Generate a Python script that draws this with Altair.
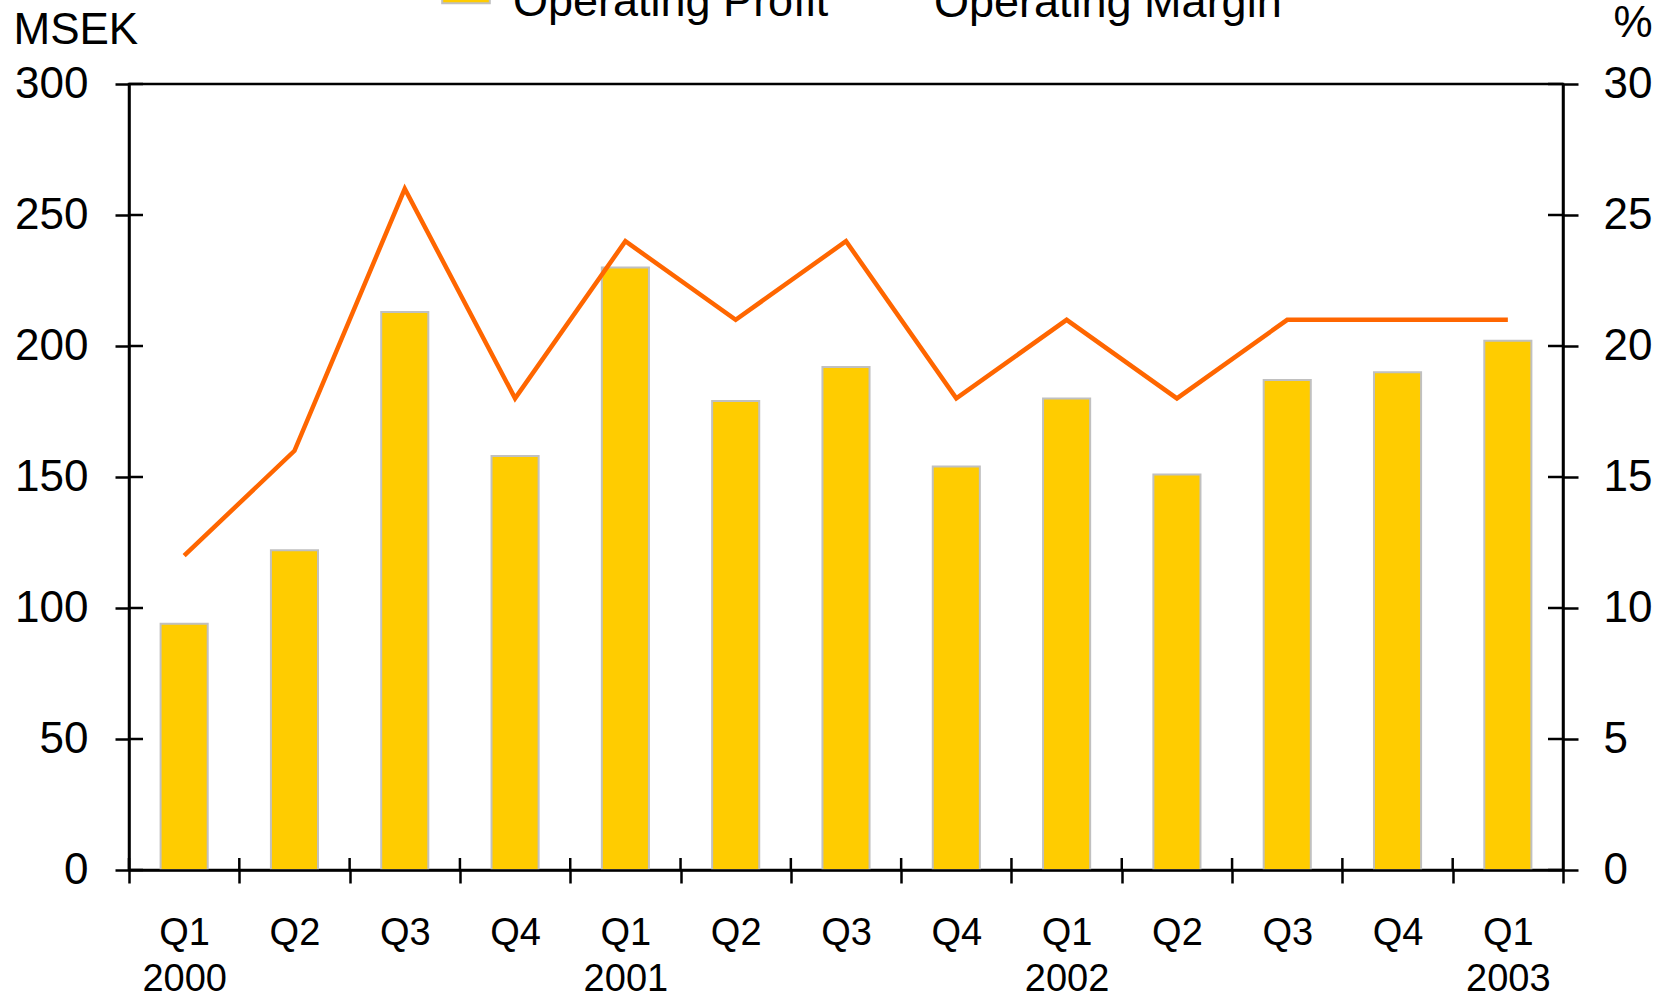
import altair as alt
import pandas as pd

quarters = ["Q1", "Q2", "Q3", "Q4", "Q1", "Q2", "Q3", "Q4", "Q1", "Q2", "Q3", "Q4", "Q1"]
years = ["2000"] * 4 + ["2001"] * 4 + ["2002"] * 4 + ["2003"]
operating_profit = [94, 122, 213, 158, 230, 179, 192, 154, 180, 151, 187, 190, 202]
operating_margin = [12, 16, 26, 18, 24, 21, 24, 18, 21, 18, 21, 21, 21]
left_ticks = [0, 50, 100, 150, 200, 250, 300]
right_ticks = [0, 5, 10, 15, 20, 25, 30]

keys = [f"{y}-{q}" for y, q in zip(years, quarters)]
df = pd.DataFrame({
    "period": keys,
    "profit": operating_profit,
    "margin": operating_margin,
    "s1": "Operating Profit",
    "s2": "Operating Margin",
})
left_df = pd.DataFrame({"v": left_ticks})
right_df = pd.DataFrame({"v": right_ticks})

FONT = "Liberation Sans"
W, H = 1434, 786
label_expr = ("isString(datum.value) ? "
              "(slice(datum.value,5) == 'Q1' ? "
              "[slice(datum.value,5), slice(datum.value,0,4)] : slice(datum.value,5)) : ''")

x_scale = alt.Scale(paddingInner=0, paddingOuter=0)

x_enc = alt.X(
    "period:N", sort=keys, title=None, scale=x_scale,
    axis=alt.Axis(
        labelExpr=label_expr, labelAngle=0, tickBand="extent",
        domain=True, domainColor="black", domainWidth=2.5, zindex=1,
        tickSize=13, tickWidth=2.5, tickColor="black",
        labelFont=FONT, labelFontSize=38, labelLineHeight=46, labelPadding=31,
        labelColor="black", labelBaseline="top", grid=False,
    ),
)

bars = alt.Chart(df).mark_bar(
    stroke="#C0C0C0", strokeWidth=2, width=alt.RelativeBandSize(0.427)
).encode(
    x=x_enc,
    y=alt.Y(
        "profit:Q", scale=alt.Scale(domain=[0, 300], nice=False),
        axis=alt.Axis(
            orient="left", values=left_ticks, grid=False,
            domain=True, domainColor="black", domainWidth=2.5, zindex=1,
            tickSize=14, tickWidth=2.5, tickColor="black",
            labelFont=FONT, labelFontSize=44, labelPadding=27, labelColor="black",
            title="MSEK", titleAngle=0, titleAlign="left", titleBaseline="alphabetic",
            titleX=-116, titleY=-41, titleFont=FONT, titleFontSize=44,
            titleFontWeight="normal", titleColor="black",
        ),
    ),
    fill=alt.Fill(
        "s1:N", scale=alt.Scale(range=["#FFCC00"]),
        legend=alt.Legend(
            title=None, orient="none", legendX=312, legendY=-129.5, padding=0,
            symbolType="square", symbolSize=2266,
            symbolStrokeColor="#C0C0C0", symbolStrokeWidth=2,
            labelFont=FONT, labelFontSize=45, labelColor="black",
            labelBaseline="top", labelOffset=22, labelLimit=1000,
        ),
    ),
)

line = alt.Chart(df).mark_line(strokeWidth=4.5).encode(
    x=alt.X("period:N", sort=keys),
    y=alt.Y(
        "margin:Q", scale=alt.Scale(domain=[0, 30], nice=False),
        axis=alt.Axis(
            orient="right", values=right_ticks, grid=False,
            domain=True, domainColor="black", domainWidth=2.5, zindex=1,
            tickSize=15, tickWidth=2.5, tickColor="black",
            labelFont=FONT, labelFontSize=44, labelPadding=25, labelColor="black",
            title="%", titleAngle=0, titleAlign="right", titleBaseline="alphabetic",
            titleX=89, titleY=-48, titleFont=FONT, titleFontSize=44,
            titleFontWeight="normal", titleColor="black",
        ),
    ),
    stroke=alt.Stroke(
        "s2:N", scale=alt.Scale(range=["#FF6600"]),
        legend=alt.Legend(
            title=None, orient="none", legendX=728, legendY=-129.5, padding=0,
            symbolType="stroke", symbolSize=2266, symbolStrokeWidth=4.5,
            labelFont=FONT, labelFontSize=45, labelColor="black",
            labelBaseline="top", labelOffset=24, labelLimit=1000,
        ),
    ),
)

x_ticks_in = alt.Chart(df).mark_rule(color="black", strokeWidth=2.5).encode(
    x=alt.X("period:N", sort=keys, bandPosition=0),
    y=alt.value(H - 12), y2=alt.value(H),
)
left_ticks_in = alt.Chart(left_df).mark_rule(color="black", strokeWidth=2.5).encode(
    y=alt.Y("v:Q", scale=alt.Scale(domain=[0, 300], nice=False), axis=None),
    x=alt.value(0), x2=alt.value(14),
)
right_ticks_in = alt.Chart(right_df).mark_rule(color="black", strokeWidth=2.5).encode(
    y=alt.Y("v:Q", scale=alt.Scale(domain=[0, 30], nice=False), axis=None),
    x=alt.value(W - 15), x2=alt.value(W),
)

chart = alt.layer(bars, line, x_ticks_in, left_ticks_in, right_ticks_in).resolve_scale(
    y="independent"
).properties(
    width=W, height=H,
    autosize=alt.AutoSizeParams(type="none"),
    padding={"left": 129, "top": 84, "right": 106, "bottom": 130},
    background="white",
).configure_view(stroke="black", strokeWidth=2.5)

chart.save("out.html", embed_options={"renderer": "svg", "actions": False})
